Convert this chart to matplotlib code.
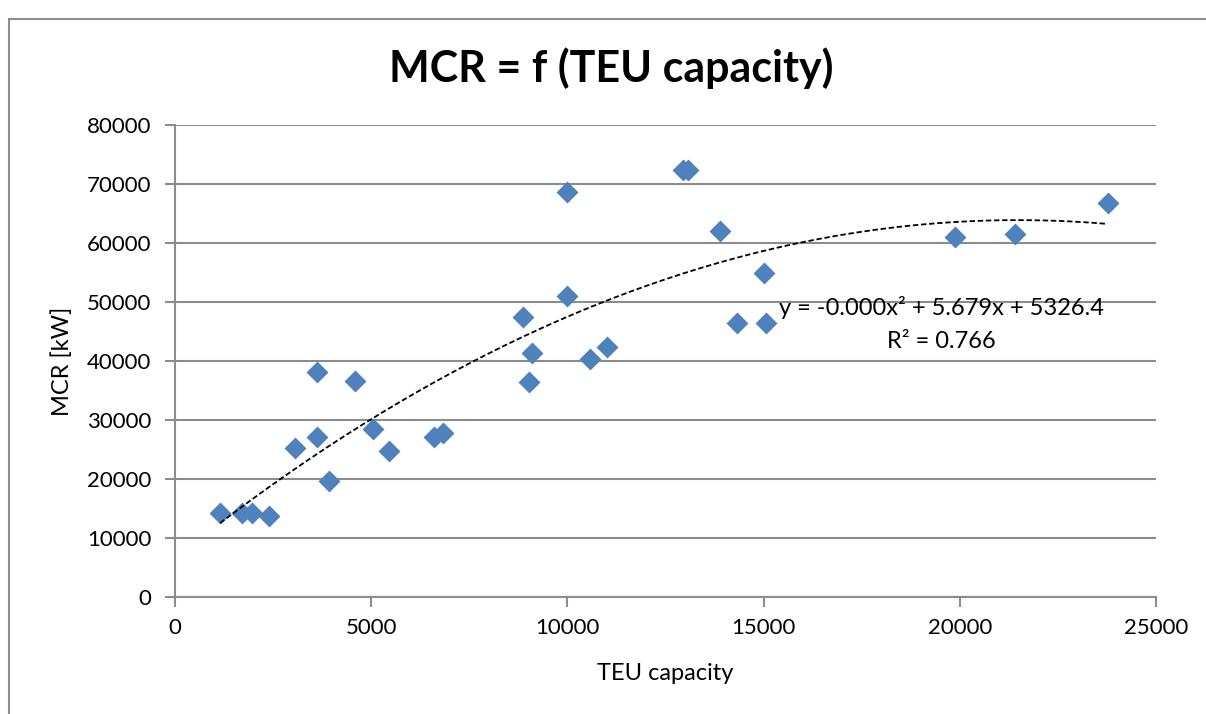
import numpy as np
import matplotlib
matplotlib.use("Agg")
import matplotlib.pyplot as plt
from matplotlib.patches import Rectangle

plt.rcParams['font.family'] = ['Lato', 'DejaVu Sans']

# data
teu = [1150, 1720, 1950, 2400, 3060, 3630, 3630, 3930, 4580, 5050, 5450,
       6600, 6840, 8870, 9010, 9100, 9990, 9990, 10570, 11020, 12950,
       13080, 13890, 14330, 15000, 15070, 19870, 21420, 23770]
mcr = [14300, 14300, 14300, 13800, 25200, 27200, 38100, 19700, 36600,
       28400, 24700, 27100, 27800, 47500, 36500, 41400, 68700, 51100,
       40300, 42300, 72300, 72300, 62100, 46500, 55000, 46400, 61100,
       61600, 66700]

eq_text = "y = -0.000x\u00b2 + 5.679x + 5326.4"
r2_text = "R\u00b2 = 0.766"

grey = '#8c8c8c'
blue = '#4f81bd'

fig = plt.figure(figsize=(12.06, 7.14), dpi=100)
ax = fig.add_axes([0.1451, 0.1639, 0.8134, 0.661])

# outer chart border
fig.patches.append(Rectangle((9/1206, -0.01), 1.0, 0.992 - 13/714 + 0.01,
                             transform=fig.transFigure, fill=False,
                             edgecolor=grey, linewidth=1.5))

ax.scatter(teu, mcr, marker='D', s=125, color=blue, zorder=3, linewidths=0)

# 2nd order polynomial trendline
c = np.polyfit(teu, mcr, 2)
xs = np.linspace(min(teu), max(teu), 200)
ax.plot(xs, np.polyval(c, xs), color='black', linestyle=(0, (3, 1.5)),
        linewidth=1.3, zorder=4)

ax.set_xlim(0, 25000)
ax.set_ylim(0, 80000)
ax.set_xticks(np.arange(0, 25001, 5000))
ax.set_yticks(np.arange(0, 80001, 10000))
ax.yaxis.grid(True, color=grey, linewidth=1.5)
ax.set_axisbelow(True)
for s in ['top', 'right']:
    ax.spines[s].set_visible(False)
for s in ['left', 'bottom']:
    ax.spines[s].set_color(grey)
    ax.spines[s].set_linewidth(1.5)
ax.tick_params(axis='both', colors=grey, labelcolor='black', labelsize=16,
               length=7, width=1.5, direction='out')
ax.tick_params(axis='x', pad=8)
ax.tick_params(axis='y', pad=10)

ax.set_xlabel("TEU capacity", fontsize=17, labelpad=18)
ax.set_ylabel("MCR [kW]", fontsize=17, labelpad=10)

fig.text(0.507, 0.905, "MCR = f (TEU capacity)", ha='center', va='center',
         fontsize=31, fontweight='bold')

ax.text(19530, 49000, eq_text, ha='center', va='center', fontsize=17)
ax.text(19530, 43300, r2_text, ha='center', va='center', fontsize=17)

fig.savefig("out.png", dpi=100)
